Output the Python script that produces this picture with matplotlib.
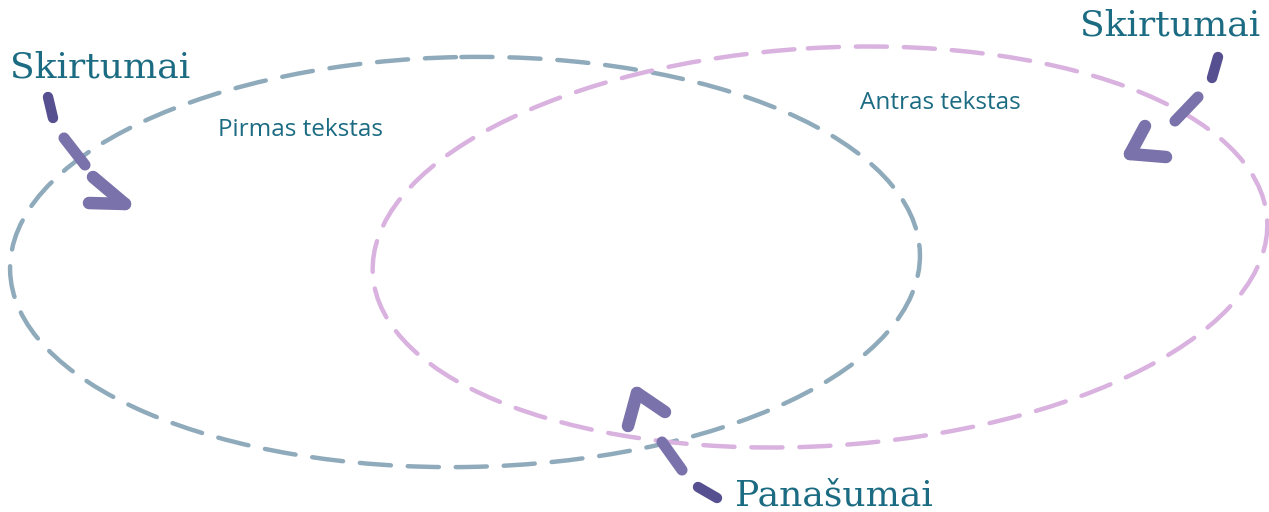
import matplotlib
matplotlib.use("Agg")
import matplotlib.pyplot as plt
from matplotlib.patches import Ellipse

W, H = 1269, 512
TEXT_C = "#1b6b82"
SET_COLORS = ["#8fabbb", "#d9b2e0"]
ARROW_C = "#7a72aa"
ARROW_DARK = "#565090"

set_labels = ["Pirmas tekstas", "Antras tekstas"]
region_labels = ["Skirtumai", "Skirtumai", "Panašumai"]

# ellipse geometry (pixel units): centre x, centre y, width, height, angle
ell_cx = [465, 820]
ell_cy = [262, 247]
ell_w = [910, 896]
ell_h = [410, 398]
ell_ang = [-1.0, -3.5]

fig = plt.figure(figsize=(W / 100, H / 100), dpi=100)
ax = fig.add_axes([0, 0, 1, 1])
ax.set_xlim(0, W)
ax.set_ylim(H, 0)
ax.axis("off")

for cx, cy, w, h, a, c in zip(ell_cx, ell_cy, ell_w, ell_h, ell_ang, SET_COLORS):
    e = Ellipse((cx, cy), w, h, angle=a, fill=False, edgecolor=c, lw=3.2,
                linestyle=(0, (7.0, 3.8)), capstyle="round")
    ax.add_patch(e)

def seg(p, q, c=ARROW_C, lw=9):
    ax.plot([p[0], q[0]], [p[1], q[1]], color=c, lw=lw, solid_capstyle="round")

# arrow 1 (top-left)
seg((48, 97), (53, 118), ARROW_DARK, 7.5)
seg((64, 138), (85, 165), ARROW_C, 8)
seg((93, 177), (125, 204))
seg((89, 203), (125, 204))
# arrow 2 (top-right)
seg((1218, 57), (1212, 78), ARROW_DARK, 7.5)
seg((1198, 97), (1175, 121), ARROW_C, 8)
seg((1145, 126), (1130, 154))
seg((1166, 157), (1130, 154))
# arrow 3 (bottom)
seg((717, 498), (698, 487), ARROW_DARK, 7.5)
seg((682, 470), (662, 442), ARROW_C, 8)
seg((665, 412), (637, 393))
seg((628, 426), (637, 393))

serif = ["DejaVu Serif"]
ax.text(10, 68, region_labels[0], fontsize=26, family=serif, color=TEXT_C,
        ha="left", va="center")
ax.text(1260, 26, region_labels[1], fontsize=26, family=serif, color=TEXT_C,
        ha="right", va="center")
ax.text(735, 496, region_labels[2], fontsize=26, family=serif, color=TEXT_C,
        ha="left", va="center")

ax.text(301, 130, set_labels[0], fontsize=17.5, family="Open Sans", color=TEXT_C,
        ha="center", va="center")
ax.text(940, 103, set_labels[1], fontsize=17.5, family="Open Sans", color=TEXT_C,
        ha="center", va="center")

fig.savefig("out.png", dpi=100)
